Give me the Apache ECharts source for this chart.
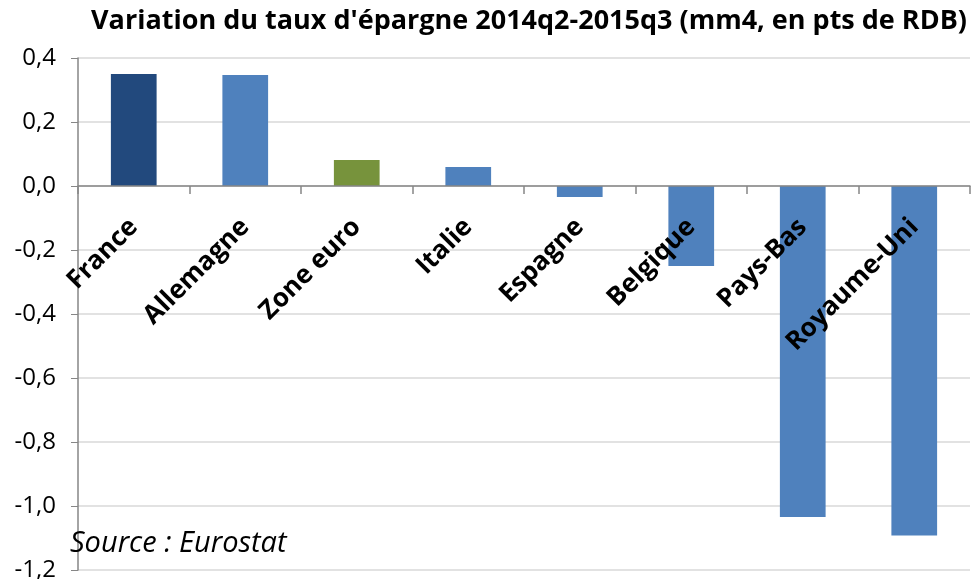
<!DOCTYPE html>
<html lang="fr">
<head>
    <meta charset="UTF-8">
    <title>Variation du taux d'épargne</title>
    <script src="https://cdn.jsdelivr.net/npm/echarts@6/dist/echarts.min.js"></script>
    <style>
        html, body { margin: 0; padding: 0; background: #fff; }
        #main { width: 974px; height: 579px; }
    </style>
</head>
<body>
    <div id="main"></div>
    <script>
        // pays (axe des catégories)
        var pays = ['France', 'Allemagne', 'Zone euro', 'Italie', 'Espagne', 'Belgique', 'Pays-Bas', 'Royaume-Uni'];
        // variation en pts de RDB
        var variation = [0.35, 0.347, 0.081, 0.059, -0.034, -0.25, -1.034, -1.092];
        // couleur de chaque barre
        var couleurs = ['#22497D', '#4F81BD', '#77933C', '#4F81BD', '#4F81BD', '#4F81BD', '#4F81BD', '#4F81BD'];

        var donnees = variation.map(function (v, i) {
            return { value: v, itemStyle: { color: couleurs[i] } };
        });

        var font = 'Open Sans, Liberation Sans, sans-serif';

        // hauteur du graphique : 58 (haut) -> 570 (bas), zéro à 186
        var offsetZero = -384;

        var option = {
            animation: false,
            title: {
                text: "Variation du taux d'épargne 2014q2-2015q3 (mm4, en pts de RDB)",
                left: 524,
                textAlign: 'center',
                top: 3,
                textStyle: { fontFamily: font, fontWeight: 'bold', fontSize: 27, color: '#000' }
            },
            graphic: [{
                type: 'text',
                left: 70,
                top: 529,
                z: 10,
                style: { text: 'Source : Eurostat', font: 'italic 29px ' + font, fill: '#000' }
            }],
            grid: { left: 78, right: 4, top: 58, bottom: 9, outerBoundsMode: 'none' },
            xAxis: {
                type: 'category',
                data: pays,
                offset: offsetZero,
                axisLine: { onZero: false, lineStyle: { color: '#868686', width: 1.5 } },
                axisTick: { show: true, length: 8, lineStyle: { color: '#868686', width: 1.5 } },
                axisLabel: {
                    rotate: 45,
                    margin: 37,
                    interval: 0,
                    fontFamily: font,
                    fontWeight: 'bold',
                    fontSize: 26,
                    color: '#000'
                },
                z: 5
            },
            yAxis: {
                type: 'value',
                min: -1.2,
                max: 0.4,
                interval: 0.2,
                axisLine: { show: true, lineStyle: { color: '#868686', width: 1.5 } },
                axisTick: { show: true, length: 7, lineStyle: { color: '#868686' } },
                splitLine: { lineStyle: { color: '#D9D9D9', width: 1.5 } },
                axisLabel: {
                    margin: 22,
                    fontFamily: font,
                    fontSize: 24,
                    color: '#000',
                    formatter: function (v) { return v.toFixed(1).replace('.', ','); }
                }
            },
            series: [{
                type: 'bar',
                barWidth: '41%',
                data: donnees
            }]
        };

        var chart = echarts.init(document.getElementById('main'));
        chart.setOption(option);
    </script>
</body>
</html>
